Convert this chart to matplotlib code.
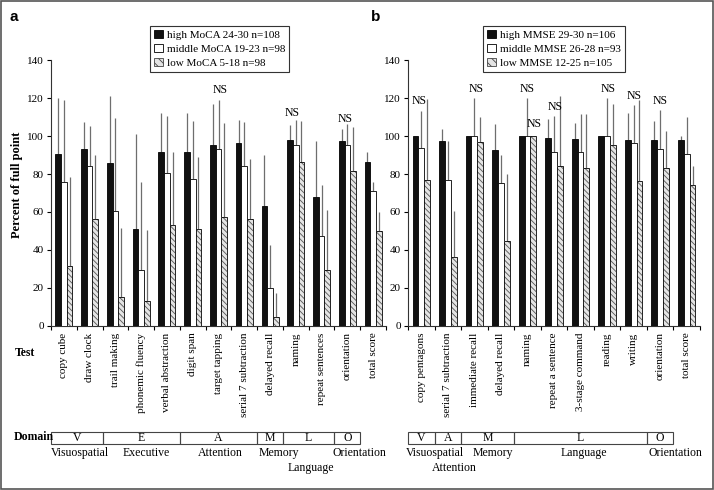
import numpy as np
import matplotlib
matplotlib.use('Agg')
from matplotlib import pyplot as plt
from matplotlib import transforms as mtransforms
from matplotlib.patches import Rectangle, Patch

plt.rcParams['font.family'] = 'Liberation Serif'
plt.rcParams['hatch.linewidth'] = 0.6

# Panel a: MoCA sub-tests (percent of full point, mean and SD)
tests_a = ['copy cube', 'draw clock', 'trail making', 'phonemic fluency', 'verbal abstraction',
           'digit span', 'target tapping', 'serial 7 subtraction', 'delayed recall', 'naming',
           'repeat sentences', 'orientation', 'total score']
high_a = [90.7, 93.1, 86.0, 50.8, 91.4, 91.4, 95.6, 96.3, 63.1, 98.2, 68.1, 97.7, 86.2]
high_a_sd = [29.3, 14.5, 35.0, 50.4, 21.1, 21.1, 21.2, 12.3, 26.9, 7.6, 29.3, 6.0, 5.2]
mid_a = [75.7, 84.1, 60.5, 29.5, 80.8, 77.2, 93.1, 84.1, 19.9, 95.6, 47.1, 95.6, 70.9]
mid_a_sd = [43.2, 21.5, 49.2, 46.2, 30.0, 30.7, 25.8, 23.5, 22.4, 13.2, 27.3, 10.6, 4.9]
low_a = [31.6, 56.1, 15.3, 13.2, 53.3, 51.1, 57.1, 56.4, 4.6, 86.4, 29.5, 81.8, 49.9]
low_a_sd = [46.7, 33.9, 36.2, 37.1, 38.4, 37.8, 49.8, 31.4, 12.5, 21.5, 31.3, 23.0, 10.1]
legend_a = ['high MoCA 24-30 n=108', 'middle MoCA 19-23 n=98', 'low MoCA 5-18 n=98']
# (letter, first test, last test)
domains_a = [('V', 0, 1), ('E', 2, 4), ('A', 5, 7), ('M', 8, 8), ('L', 9, 10), ('O', 11, 11)]
# (name, domain index, x shift, row)
domain_names_a = [('Visuospatial', 0, 0.12, 0), ('Executive', 1, 0.2, 0), ('Attention', 2, 0.08, 0),
                  ('Memory', 3, 0.35, 0), ('Language', 4, 0.1, 1), ('Orientation', 5, 0.45, 0)]
# (test index, x shift, y)
ns_a = [(6, 0.05, 124.5), (9, -0.15, 112.4), (11, -0.1, 109.2)]

# Panel b: MMSE sub-tests
tests_b = ['copy pentagons', 'serial 7 subtraction', 'immediate recall', 'delayed recall', 'naming',
           'repeat a sentence', '3-stage command', 'reading', 'writing', 'orientation', 'total score']
high_b = [100, 97.7, 100, 92.6, 100, 99.1, 98.4, 100, 97.9, 97.9, 98.2]
high_b_sd = [0, 6.3, 0, 14.1, 0, 9.9, 8.8, 0, 14.1, 10.1, 1.8]
mid_b = [93.8, 77.1, 100, 75.3, 100, 91.4, 91.7, 100, 96.6, 93.5, 90.7]
mid_b_sd = [19.7, 20.3, 20.0, 15.0, 20.0, 19.4, 20.1, 20.0, 19.8, 20.3, 19.5]
low_b = [77.1, 36.2, 97.0, 44.8, 100, 84.1, 83.2, 95.6, 76.2, 83.2, 74.3]
low_b_sd = [42.5, 24.1, 13.2, 35.4, 0, 36.9, 28.3, 21.4, 42.7, 19.4, 9.8]
legend_b = ['high MMSE 29-30 n=106', 'middle MMSE 26-28 n=93', 'low MMSE 12-25 n=105']
domains_b = [('V', 0, 0), ('A', 1, 1), ('M', 2, 3), ('L', 4, 8), ('O', 9, 9)]
domain_names_b = [('Visuospatial', 0, 0.52, 0), ('Attention', 1, 0.24, 1), ('Memory', 2, 0.2, 0),
                  ('Language', 3, 0.14, 0), ('Orientation', 4, 0.58, 0)]
ns_b = [(0, -0.1, 118.6), (2, 0.05, 124.7), (4, 0.0, 124.7), (4, 0.25, 106.2), (5, 0.05, 115.3),
        (7, 0.05, 124.7), (8, 0.0, 121.1), (9, 0.0, 118.6)]

HATCH = '\\\\\\\\\\\\'
W = 0.22

fig = plt.figure(figsize=(7.14, 4.9), dpi=100)


def draw_panel(ax, tests, high, high_sd, mid, mid_sd, low, low_sd, legend, domains, names, ns, lx):
    x = np.arange(len(tests))

    # Bars
    ax.bar(x - W, high, W, color='#111111', edgecolor='black', linewidth=0.6, zorder=3)
    ax.bar(x, mid, W, color='white', edgecolor='black', linewidth=0.6, zorder=3)
    ax.bar(x + W, low, W, color='#e4e4e4', edgecolor='#555555', hatch=HATCH, linewidth=0, zorder=3)
    ax.bar(x + W, low, W, fill=False, edgecolor='black', linewidth=0.6, zorder=3)

    # Upper error bars only
    for xs, m, sd in ((x - W, high, high_sd), (x, mid, mid_sd), (x + W, low, low_sd)):
        sd = np.array(sd, dtype=float)
        ax.errorbar(xs, m, yerr=[np.zeros(len(sd)), sd], fmt='none', ecolor='#6e6e6e',
                    elinewidth=0.9, capsize=0, zorder=2)

    for i, dx, y in ns:
        ax.text(i + dx, y, 'NS', ha='center', va='center', fontsize=8.5, zorder=4)

    ax.set_xlim(-0.5, len(tests) - 0.5)
    ax.set_ylim(0, 140)
    ax.set_yticks(range(0, 141, 20))
    ax.set_xticks(x)
    ax.set_xticklabels(tests, rotation=90, va='top')
    ax.set_xticks(np.arange(len(tests) + 1) - 0.5, minor=True)
    ax.tick_params(axis='x', which='major', length=0, pad=5, labelsize=8)
    ax.tick_params(axis='x', which='minor', length=3, direction='out', width=0.8)
    ax.tick_params(axis='y', length=3, width=0.8, labelsize=8, pad=2)
    for s in ['top', 'right']:
        ax.spines[s].set_visible(False)
    for s in ['left', 'bottom']:
        ax.spines[s].set_linewidth(0.8)
        ax.spines[s].set_color('#333333')

    handles = [Patch(facecolor='#111111', edgecolor='black', linewidth=0.6),
               Patch(facecolor='white', edgecolor='black', linewidth=0.6),
               Patch(facecolor='#e4e4e4', edgecolor='#444444', hatch='\\\\\\\\', linewidth=0.6)]
    leg = ax.legend(handles, legend, loc='upper left', bbox_to_anchor=(lx, 1 - 26 / 490),
                    bbox_transform=fig.transFigure, borderaxespad=0, fontsize=8,
                    handlelength=0.8, handleheight=0.8, handletextpad=0.4, borderpad=0.35,
                    labelspacing=0.35, fancybox=False, framealpha=1)
    leg.get_frame().set_edgecolor('#333333')
    leg.get_frame().set_linewidth(0.8)

    # Domain row below the test names
    trans = mtransforms.blended_transform_factory(ax.transData, fig.transFigure)
    y0, h = 1 - 444 / 490, 12.3 / 490
    centers = []
    for letter, a, b in domains:
        fig.add_artist(Rectangle((a - 0.5, y0), b - a + 1, h, transform=trans, fill=False,
                                 edgecolor='#444444', linewidth=0.8))
        c = (a + b) / 2
        centers.append(c)
        fig.text(c, y0 + h / 2, letter, transform=trans, ha='center', va='center', fontsize=8.5)
    for name, d, dx, row in names:
        yy = 1 - (452.7 + 15 * row) / 490
        fig.text(centers[d] + dx, yy, name, transform=trans, ha='center', va='center', fontsize=8.5)


ax_a = fig.add_axes([51 / 714, 1 - 325.5 / 490, 335 / 714, 265 / 490])
draw_panel(ax_a, tests_a, high_a, high_a_sd, mid_a, mid_a_sd, low_a, low_a_sd, legend_a,
           domains_a, domain_names_a, ns_a, 150 / 714)

ax_b = fig.add_axes([408 / 714, 1 - 325.5 / 490, 292 / 714, 265 / 490])
draw_panel(ax_b, tests_b, high_b, high_b_sd, mid_b, mid_b_sd, low_b, low_b_sd, legend_b,
           domains_b, domain_names_b, ns_b, 483 / 714)

fig.text(17 / 714, 1 - 185 / 490, 'Percent of full point', rotation=90, ha='center', va='center',
         fontsize=9, fontweight='bold')
fig.text(15 / 714, 1 - 353 / 490, 'Test', ha='left', va='center', fontsize=8.5, fontweight='bold')
fig.text(14 / 714, 1 - 437 / 490, 'Domain', ha='left', va='center', fontsize=8.5, fontweight='bold')
fig.text(10 / 714, 1 - 17 / 490, 'a', ha='left', va='center', fontsize=11, fontweight='bold',
         family='Liberation Sans')
fig.text(371 / 714, 1 - 17 / 490, 'b', ha='left', va='center', fontsize=11, fontweight='bold',
         family='Liberation Sans')

# Frame around the whole figure
fig.add_artist(Rectangle((0.001, 0.002), 0.997, 0.996, transform=fig.transFigure, fill=False,
                         edgecolor='#555555', linewidth=1.2))

fig.savefig('out.png', dpi=100)
